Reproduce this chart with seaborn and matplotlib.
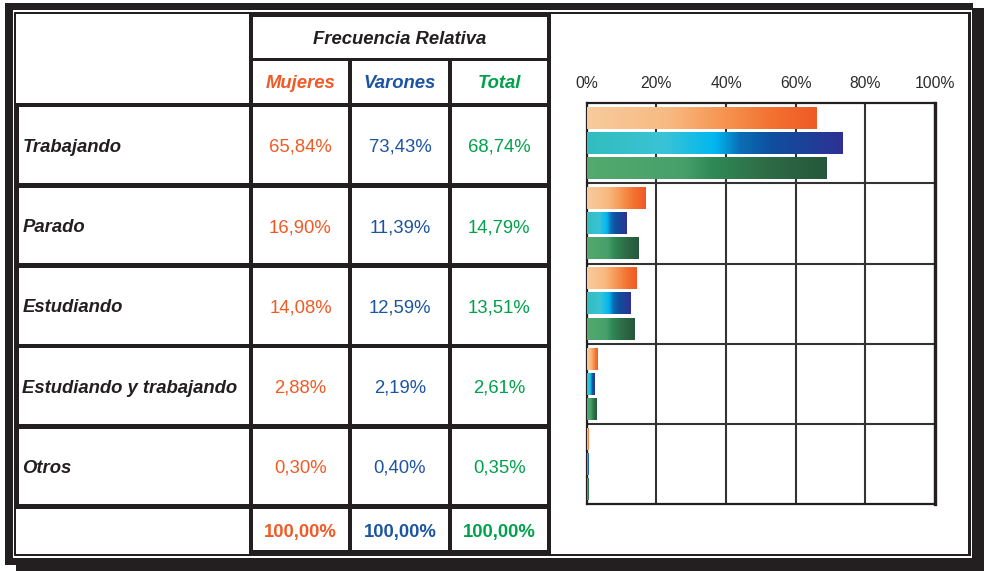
import numpy as np
import pandas as pd
import matplotlib
matplotlib.use("Agg")
import matplotlib.pyplot as plt
import seaborn as sns
from matplotlib.patches import Rectangle
from matplotlib.colors import LinearSegmentedColormap

# ---------------- data ----------------
categories = ["Trabajando", "Parado", "Estudiando", "Estudiando y trabajando", "Otros"]
series = ["Mujeres", "Varones", "Total"]
mujeres = [65.84, 16.90, 14.08, 2.88, 0.30]
varones = [73.43, 11.39, 12.59, 2.19, 0.40]
total = [68.74, 14.79, 13.51, 2.61, 0.35]
totals_row = [100.00, 100.00, 100.00]
header = "Frecuencia Relativa"
xticks = [0, 20, 40, 60, 80, 100]
xticklabels = ["0%", "20%", "40%", "60%", "80%", "100%"]

# ---------------- style ----------------
W, H = 984, 571
sns.set_theme(style="white")
plt.rcParams["font.family"] = ["Liberation Sans", "DejaVu Sans"]

DARK = "#231F20"
ORANGE = "#F15A24"
BLUE = "#1C54A4"
GREEN = "#00A14B"
text_colors = [ORANGE, BLUE, GREEN]

grad_stops = [
    [(0.0, "#F7CB9C"), (0.35, "#F9BA82"), (0.6, "#F6944F"), (0.8, "#F37231"), (1.0, "#F05A25")],
    [(0.0, "#31BDBF"), (0.3, "#3AC3D6"), (0.5, "#00B7F1"), (0.6, "#0B6DB6"), (0.72, "#0E4F9E"), (1.0, "#2E3192")],
    [(0.0, "#52AA6E"), (0.4, "#47A06A"), (0.52, "#2F8A56"), (0.75, "#2E6B46"), (1.0, "#25573A")],
]
cmaps = [LinearSegmentedColormap.from_list(f"g{i}", s) for i, s in enumerate(grad_stops)]

fig = plt.figure(figsize=(W / 100, H / 100), dpi=100)
bg = fig.add_axes([0, 0, 1, 1])
bg.set_xlim(0, W)
bg.set_ylim(H, 0)
bg.axis("off")


def rect(x0, y0, x1, y1, color=DARK, z=1):
    bg.add_patch(Rectangle((x0, y0), x1 - x0, y1 - y0, facecolor=color,
                           edgecolor="none", zorder=z))


# frame with shadow
rect(16, 8, 984, 571)
rect(5, 3, 973, 565)
rect(12.7, 10, 972.3, 557.5, "white")
rect(14, 12, 970.7, 556)
rect(16, 14, 968.3, 554, "white")

# table grid
rect(16, 103, 18.7, 508.6, z=2)                  # left thick border of data rows
rect(249.3, 14, 253.3, 554, z=2)
rect(348.3, 58, 351.7, 554, z=2)
rect(448.3, 58, 451.7, 554, z=2)
rect(546.7, 14, 551.3, 554, z=2)
rect(249.3, 14, 551.3, 16.7, z=2)
rect(249.3, 58, 551.3, 61.3, z=2)
row_lines = [105, 185.5, 265.7, 346, 426.3, 506.3]
for yc in row_lines:
    rect(16, yc - 2.3, 551.3, yc + 2.3, z=2)
rect(249.3, 550, 551.3, 554, z=2)

FS = 13.3
col_centers = [300.5, 400, 499.3]
bg.text(400, 43.5, header, ha="center", va="baseline", fontsize=FS,
        fontweight="bold", fontstyle="italic", color=DARK, zorder=5)
for cx, name, c in zip(col_centers, series, text_colors):
    bg.text(cx, 88.5, name, ha="center", va="baseline", fontsize=FS,
            fontweight="bold", fontstyle="italic", color=c, zorder=5)

row_centers = [(row_lines[i] + row_lines[i + 1]) / 2 for i in range(5)]
values = [mujeres, varones, total]


def fmt(v):
    return f"{v:.2f}".replace(".", ",") + "%"


for i, cat in enumerate(categories):
    yb = row_centers[i] + 6.6
    bg.text(22.5, yb, cat, ha="left", va="baseline", fontsize=FS,
            fontweight="bold", fontstyle="italic", color=DARK, zorder=5)
    for j in range(3):
        bg.text(col_centers[j], yb, fmt(values[j][i]), ha="center", va="baseline",
                fontsize=FS, color=text_colors[j], zorder=5)
for j in range(3):
    bg.text(col_centers[j], 537, fmt(totals_row[j]), ha="center", va="baseline",
            fontsize=FS, fontweight="bold", color=text_colors[j], zorder=5)

# ---------------- bar chart ----------------
x0, x1, y0, y1 = 586.7, 935.0, 103.3, 504.0
ax = fig.add_axes([x0 / W, (H - y1) / H, (x1 - x0) / W, (y1 - y0) / H])
ax.set_facecolor("white")

df = pd.DataFrame({
    "category": np.repeat(categories, 3),
    "series": series * len(categories),
    "value": np.ravel(np.column_stack([mujeres, varones, total])),
})
sns.barplot(data=df, x="value", y="category", hue="series", order=categories,
            hue_order=series, orient="h", width=0.9375, gap=0.136,
            palette=[ORANGE, BLUE, GREEN], saturation=1, legend=False,
            errorbar=None, ax=ax)

grad = np.linspace(0, 1, 256).reshape(1, -1)
for cont, cmap in zip(ax.containers, cmaps):
    for p in cont.patches:
        bx0, by0 = p.get_x(), p.get_y()
        bw, bh = p.get_width(), p.get_height()
        if bw <= 0:
            continue
        ax.imshow(grad, cmap=cmap, aspect="auto", interpolation="bicubic",
                  extent=(bx0, bx0 + bw, by0 + bh, by0), zorder=3)
        p.set_visible(False)

ax.set_xlim(0, 100)
ax.set_ylim(len(categories) - 0.5, -0.5)
ax.set_xlabel("")
ax.set_ylabel("")
ax.xaxis.tick_top()
ax.set_xticks(xticks)
ax.set_xticklabels(xticklabels)
ax.tick_params(axis="x", length=0, pad=9, labelsize=11.3, labelcolor="#2B2B2B")
ax.set_yticks([])
ax.set_yticks([k + 0.5 for k in range(len(categories) - 1)], minor=True)
ax.tick_params(axis="y", which="both", length=0, labelleft=False)
ax.set_axisbelow(True)
ax.grid(True, which="major", axis="x", color="#333333", linewidth=1.5)
ax.grid(True, which="minor", axis="y", color="#333333", linewidth=1.5)
for side, sp in ax.spines.items():
    sp.set_visible(True)
    sp.set_color(DARK)
    sp.set_linewidth(1.6)
ax.spines["right"].set_linewidth(2.4)

fig.savefig("out.png", dpi=100)
